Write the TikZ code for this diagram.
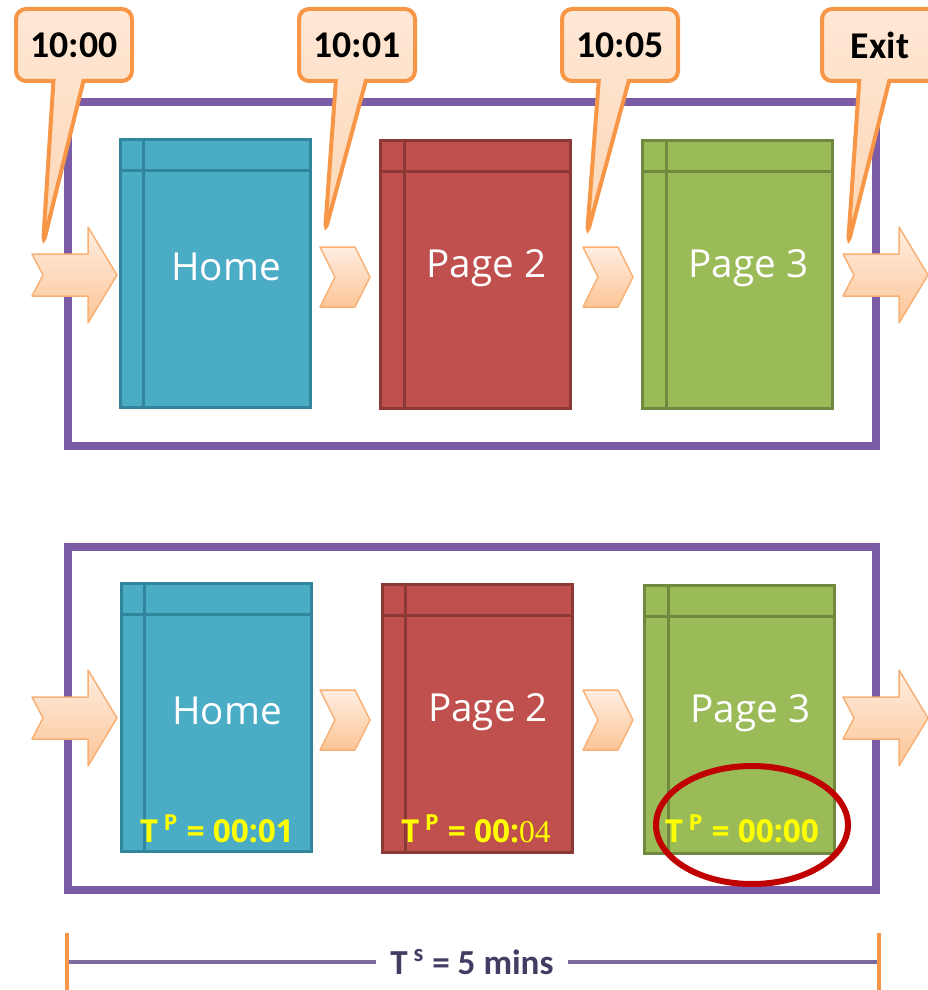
\documentclass[tikz,border=0pt]{standalone}
\usepackage{fontspec}
\usetikzlibrary{shapes.callouts,shapes.geometric}
\newfontfamily\calloutfont{Carlito}
\newfontfamily\pagefont{Open Sans}
\newfontfamily\oddfont{Liberation Serif}
\newlength\px
\setlength\px{0.02cm}
\definecolor{homefill}{HTML}{4BACC6}
\definecolor{homeline}{HTML}{31859C}
\definecolor{redfill}{HTML}{C0504D}
\definecolor{redline}{HTML}{8C3836}
\definecolor{greenfill}{HTML}{9BBB59}
\definecolor{greenline}{HTML}{71893F}
\definecolor{framepurple}{HTML}{7B5AA6}
\definecolor{calloutline}{HTML}{F79646}
\definecolor{callouttop}{HTML}{FFE8D6}
\definecolor{calloutbottom}{HTML}{FCD6B4}
\definecolor{arrowline}{HTML}{F8B075}
\definecolor{arrowtop}{HTML}{FFEEE2}
\definecolor{arrowbottom}{HTML}{FCC596}
\definecolor{tpyellow}{HTML}{FFFF00}
\definecolor{markred}{HTML}{C00000}
\definecolor{spanline}{HTML}{7A6A9E}
\definecolor{spantext}{HTML}{433D63}
\tikzset{
  visitframe/.style={draw=framepurple,line width=8\px},
  pagebox/.style={draw,line width=3\px,minimum width=190\px,minimum height=268\px,inner sep=0pt},
  pagetext/.style={text=white,font=\pagefont\fontsize{22}{26}\selectfont},
  timebox/.style={rectangle callout,draw=calloutline,line width=4\px,
    top color=callouttop,bottom color=calloutbottom,rounded corners=10\px,
    minimum width=116\px,minimum height=72\px,callout pointer width=30\px,
    inner sep=0pt,font=\calloutfont\bfseries\fontsize{21.5}{25}\selectfont},
  flowarrow/.style={draw=arrowline,line width=1.5\px,top color=arrowtop,bottom color=arrowbottom,line join=round},
  dwell/.style={text=tpyellow,anchor=base,font=\pagefont\bfseries\fontsize{18}{21}\selectfont},
}
\begin{document}
\begin{tikzpicture}[x=0.02cm,y=-0.02cm]
  \useasboundingbox (0,0) rectangle (927,990);
  % frames
  \draw[visitframe] (68,102) rectangle (876,446);
  \draw[visitframe] (68,547) rectangle (876,890);
  % pages, top row
  \node[pagebox,draw=homeline,fill=homefill] (home) at (215,273) {};
  \node[pagebox,draw=redline,fill=redfill] (pagetwo) at (475.5,274) {};
  \node[pagebox,draw=greenline,fill=greenfill] (pagethree) at (737.5,274) {};
  % pages, bottom row
  \node[pagebox,draw=homeline,fill=homefill] (homeb) at (216,717) {};
  \node[pagebox,draw=redline,fill=redfill] (pagetwob) at (477,718) {};
  \node[pagebox,draw=greenline,fill=greenfill] (pagethreeb) at (739.5,719) {};
  \foreach \p/\c in {home/homeline,pagetwo/redline,pagethree/greenline,homeb/homeline,pagetwob/redline,pagethreeb/greenline} {
    \draw[\c,line width=3\px] ([xshift=25\px]\p.north west) -- ([xshift=25\px]\p.south west);
    \draw[\c,line width=3\px] ([yshift=-33\px]\p.north west) -- ([yshift=-33\px]\p.north east);
  }
  \foreach \p/\t in {home/Home,pagetwo/Page 2,pagethree/Page 3,homeb/Home,pagetwob/Page 2,pagethreeb/Page 3}
    \node[pagetext] (\p-label) at ([xshift=11\px,yshift=6\px]\p.center) {\t};
  % arrows
  \foreach \ax/\ay in {32/275,843/275,32/718,843/718}
    \draw[flowarrow] (\ax,\ay-21) -- ++(56,0) -- ++(0,-27) -- ++(29,48) -- ++(-29,48)
      -- ++(0,-27) -- ++(-56,0) -- ++(11,-21) -- cycle;
  \foreach \ax/\ay in {320/277,583/277,320/720,583/720}
    \draw[flowarrow] (\ax,\ay-30) -- ++(35,0) -- ++(15,30) -- ++(-15,30) -- ++(-35,0)
      -- ++(15,-30) -- cycle;
  % times
  \node[timebox,callout absolute pointer={(43,245)}] (start) at (74,45) {10:00};
  \node[timebox,callout absolute pointer={(325,232)}] (second) at (357,45) {10:01};
  \node[timebox,callout absolute pointer={(587,235)}] (third) at (620,45) {10:05};
  \node[timebox,callout absolute pointer={(848,245)}] (exit) at (880,45) {Exit};
  % time on page
  \node[dwell] (tphome) at (217,842) {T\,\textsuperscript{P} = 00:01};
  \node[dwell] (tptwo) at (476,842) {T\,\textsuperscript{P} = 00:{\oddfont\mdseries 04}};
  \node[dwell] (tpthree) at (742,842) {T\,\textsuperscript{P} = 00:00};
  \node[draw=markred,line width=6\px,ellipse,minimum width=192\px,minimum height=118\px] (mark) at (752,825) {};
  % session span
  \coordinate (spanl) at (67,962);
  \coordinate (spanr) at (879,962);
  \node[text=spantext,font=\calloutfont\bfseries\fontsize{20}{24}\selectfont,inner xsep=14\px] (span) at (472,962) {T\,\textsuperscript{s} = 5 mins};
  \draw[spanline,line width=4\px] (spanl) -- (span.west);
  \draw[spanline,line width=4\px] (span.east) -- (spanr);
  \draw[calloutline,line width=4\px] ([yshift=29\px]spanl) -- ([yshift=-29\px]spanl);
  \draw[calloutline,line width=4\px] ([yshift=29\px]spanr) -- ([yshift=-29\px]spanr);
\end{tikzpicture}
\end{document}
